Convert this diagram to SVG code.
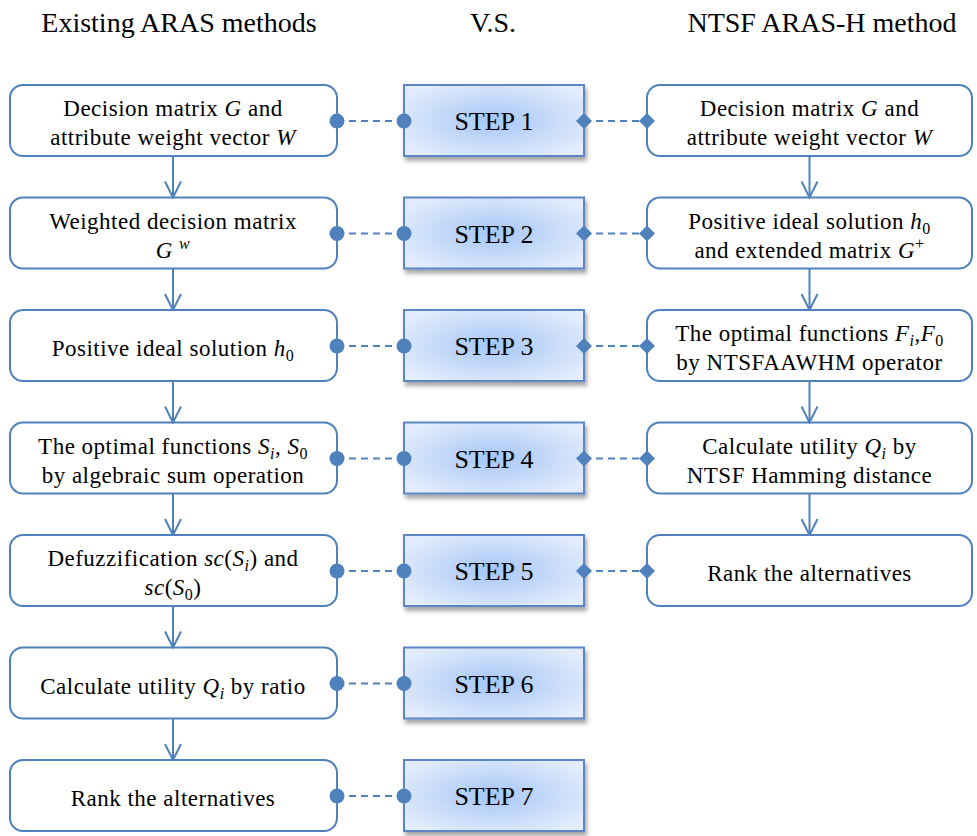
<svg xmlns="http://www.w3.org/2000/svg" width="977" height="836" viewBox="0 0 977 836" font-family="Liberation Serif, serif">
<style>
.title{font-family:"Liberation Serif",serif;font-size:28px;text-anchor:middle;fill:#000}
.t{font-family:"Liberation Serif",serif;font-size:23px;text-anchor:middle;letter-spacing:0.5px;fill:#000}
.st{font-family:"Liberation Serif",serif;font-size:26px;text-anchor:middle;fill:#000}
.i{font-style:italic}
.sb{font-size:16px}
.box{fill:#fff;stroke:#4f81bd;stroke-width:2}
.step{fill:url(#g);stroke:#5b86c5;stroke-width:2;filter:url(#sh)}
.flow{stroke:#4f81bd;stroke-width:2;fill:none;marker-end:url(#arr)}
.dl{stroke:#4f81bd;stroke-width:2;stroke-dasharray:7 5;fill:none}
.lc{marker-start:url(#dot);marker-end:url(#dot)}
.rc{marker-start:url(#dia);marker-end:url(#dia)}
</style>
<defs>
<radialGradient id="g" cx="0.5" cy="0.5" r="0.6">
<stop offset="0" stop-color="#a6c6f6"/>
<stop offset="1" stop-color="#e2ecfc"/>
</radialGradient>
<filter id="sh" x="-10%" y="-10%" width="130%" height="140%">
<feDropShadow dx="2" dy="4" stdDeviation="2" flood-color="#000" flood-opacity="0.35"/>
</filter>
<marker id="arr" viewBox="0 0 18 18" refX="17" refY="9" markerWidth="18" markerHeight="18" markerUnits="userSpaceOnUse" orient="auto">
<path d="M1,1 L17,9 L1,17" fill="none" stroke="#4f81bd" stroke-width="2"/>
</marker>
<marker id="dot" viewBox="0 0 16 16" refX="8" refY="8" markerWidth="16" markerHeight="16" markerUnits="userSpaceOnUse" orient="auto">
<circle cx="8" cy="8" r="7.5" fill="#4f81bd"/>
</marker>
<marker id="dia" viewBox="0 0 18 18" refX="9" refY="9" markerWidth="18" markerHeight="18" markerUnits="userSpaceOnUse" orient="auto">
<path d="M9,1 L17,9 L9,17 L1,9 Z" fill="#4f81bd"/>
</marker>
</defs>

<g id="titles">
<text class="title" x="179" y="32" font-family="Liberation Serif, serif">Existing ARAS methods</text>
<text class="title" x="493" y="32" font-family="Liberation Serif, serif">V.S.</text>
<text class="title" x="822" y="32" font-family="Liberation Serif, serif">NTSF ARAS-H method</text>
</g>

<g id="L1"><rect class="box" x="10" y="85" width="327" height="71" rx="13"/>
<text class="t" x="173" y="116" font-family="Liberation Serif, serif">Decision matrix <tspan class="i">G</tspan> and</text>
<text class="t" x="173" y="145" font-family="Liberation Serif, serif">attribute weight vector <tspan class="i">W</tspan></text></g>
<g id="L2"><rect class="box" x="10" y="197.5" width="327" height="71" rx="13"/>
<text class="t" x="173" y="228.5" font-family="Liberation Serif, serif">Weighted decision matrix</text>
<text class="t" x="173" y="257.5" font-family="Liberation Serif, serif"><tspan class="i">G</tspan> <tspan class="i sb" dy="-9">w</tspan></text></g>
<g id="L3"><rect class="box" x="10" y="310" width="327" height="71" rx="13"/>
<text class="t" x="173" y="356" font-family="Liberation Serif, serif">Positive ideal solution <tspan class="i">h</tspan><tspan class="sb" dy="5">0</tspan></text></g>
<g id="L4"><rect class="box" x="10" y="422.5" width="327" height="71" rx="13"/>
<text class="t" x="173" y="453.5" font-family="Liberation Serif, serif">The optimal functions <tspan class="i">S</tspan><tspan class="i sb" dy="5">i</tspan><tspan dy="-5">, </tspan><tspan class="i">S</tspan><tspan class="sb" dy="5">0</tspan></text>
<text class="t" x="173" y="482.5" font-family="Liberation Serif, serif">by algebraic sum operation</text></g>
<g id="L5"><rect class="box" x="10" y="535" width="327" height="71" rx="13"/>
<text class="t" x="173" y="566" font-family="Liberation Serif, serif">Defuzzification <tspan class="i">sc</tspan>(<tspan class="i">S</tspan><tspan class="i sb" dy="5">i</tspan><tspan dy="-5">) and</tspan></text>
<text class="t" x="173" y="595" font-family="Liberation Serif, serif"><tspan class="i">sc</tspan>(<tspan class="i">S</tspan><tspan class="sb" dy="5">0</tspan><tspan dy="-5">)</tspan></text></g>
<g id="L6"><rect class="box" x="10" y="647.5" width="327" height="71" rx="13"/>
<text class="t" x="173" y="693.5" font-family="Liberation Serif, serif">Calculate utility <tspan class="i">Q</tspan><tspan class="i sb" dy="5">i</tspan><tspan dy="-5"> by ratio</tspan></text></g>
<g id="L7"><rect class="box" x="10" y="760" width="327" height="71" rx="13"/>
<text class="t" x="173" y="806" font-family="Liberation Serif, serif">Rank the alternatives</text></g>

<g id="S1"><rect class="step" x="404" y="85" width="180" height="71"/><text class="st" x="494" y="130" font-family="Liberation Serif, serif">STEP 1</text></g>
<g id="S2"><rect class="step" x="404" y="197.5" width="180" height="71"/><text class="st" x="494" y="242.5" font-family="Liberation Serif, serif">STEP 2</text></g>
<g id="S3"><rect class="step" x="404" y="310" width="180" height="71"/><text class="st" x="494" y="355" font-family="Liberation Serif, serif">STEP 3</text></g>
<g id="S4"><rect class="step" x="404" y="422.5" width="180" height="71"/><text class="st" x="494" y="467.5" font-family="Liberation Serif, serif">STEP 4</text></g>
<g id="S5"><rect class="step" x="404" y="535" width="180" height="71"/><text class="st" x="494" y="580" font-family="Liberation Serif, serif">STEP 5</text></g>
<g id="S6"><rect class="step" x="404" y="647.5" width="180" height="71"/><text class="st" x="494" y="692.5" font-family="Liberation Serif, serif">STEP 6</text></g>
<g id="S7"><rect class="step" x="404" y="760" width="180" height="71"/><text class="st" x="494" y="805" font-family="Liberation Serif, serif">STEP 7</text></g>

<g id="R1"><rect class="box" x="647" y="85" width="325" height="71" rx="13"/>
<text class="t" x="809.5" y="116" font-family="Liberation Serif, serif">Decision matrix <tspan class="i">G</tspan> and</text>
<text class="t" x="809.5" y="145" font-family="Liberation Serif, serif">attribute weight vector <tspan class="i">W</tspan></text></g>
<g id="R2"><rect class="box" x="647" y="197.5" width="325" height="71" rx="13"/>
<text class="t" x="809.5" y="228.5" font-family="Liberation Serif, serif">Positive ideal solution <tspan class="i">h</tspan><tspan class="sb" dy="5">0</tspan></text>
<text class="t" x="809.5" y="257.5" font-family="Liberation Serif, serif">and extended matrix <tspan class="i">G</tspan><tspan class="sb" dy="-9">+</tspan></text></g>
<g id="R3"><rect class="box" x="647" y="310" width="325" height="71" rx="13"/>
<text class="t" x="809.5" y="341" font-family="Liberation Serif, serif">The optimal functions <tspan class="i">F</tspan><tspan class="i sb" dy="5">i</tspan><tspan dy="-5">,</tspan><tspan class="i">F</tspan><tspan class="sb" dy="5">0</tspan></text>
<text class="t" x="809.5" y="370" font-family="Liberation Serif, serif">by NTSFAAWHM  operator</text></g>
<g id="R4"><rect class="box" x="647" y="422.5" width="325" height="71" rx="13"/>
<text class="t" x="809.5" y="453.5" font-family="Liberation Serif, serif">Calculate utility <tspan class="i">Q</tspan><tspan class="i sb" dy="5">i</tspan><tspan dy="-5"> by</tspan></text>
<text class="t" x="809.5" y="482.5" font-family="Liberation Serif, serif">NTSF Hamming distance</text></g>
<g id="R5"><rect class="box" x="647" y="535" width="325" height="71" rx="13"/>
<text class="t" x="809.5" y="581" font-family="Liberation Serif, serif">Rank the alternatives</text></g>

<g id="connectors">
<line class="flow" x1="173" y1="156" x2="173" y2="197.5"/>
<line class="flow" x1="173" y1="268.5" x2="173" y2="310"/>
<line class="flow" x1="173" y1="381" x2="173" y2="422.5"/>
<line class="flow" x1="173" y1="493.5" x2="173" y2="535"/>
<line class="flow" x1="173" y1="606" x2="173" y2="647.5"/>
<line class="flow" x1="173" y1="718.5" x2="173" y2="760"/>
<line class="flow" x1="809.5" y1="156" x2="809.5" y2="197.5"/>
<line class="flow" x1="809.5" y1="268.5" x2="809.5" y2="310"/>
<line class="flow" x1="809.5" y1="381" x2="809.5" y2="422.5"/>
<line class="flow" x1="809.5" y1="493.5" x2="809.5" y2="535"/>
<line class="dl lc" x1="337" y1="121" x2="404" y2="121"/>
<line class="dl lc" x1="337" y1="233.5" x2="404" y2="233.5"/>
<line class="dl lc" x1="337" y1="346" x2="404" y2="346"/>
<line class="dl lc" x1="337" y1="458.5" x2="404" y2="458.5"/>
<line class="dl lc" x1="337" y1="571" x2="404" y2="571"/>
<line class="dl lc" x1="337" y1="683.5" x2="404" y2="683.5"/>
<line class="dl lc" x1="337" y1="796" x2="404" y2="796"/>
<line class="dl rc" x1="584" y1="121" x2="647" y2="121"/>
<line class="dl rc" x1="584" y1="233.5" x2="647" y2="233.5"/>
<line class="dl rc" x1="584" y1="346" x2="647" y2="346"/>
<line class="dl rc" x1="584" y1="458.5" x2="647" y2="458.5"/>
<line class="dl rc" x1="584" y1="571" x2="647" y2="571"/>
</g>
</svg>
